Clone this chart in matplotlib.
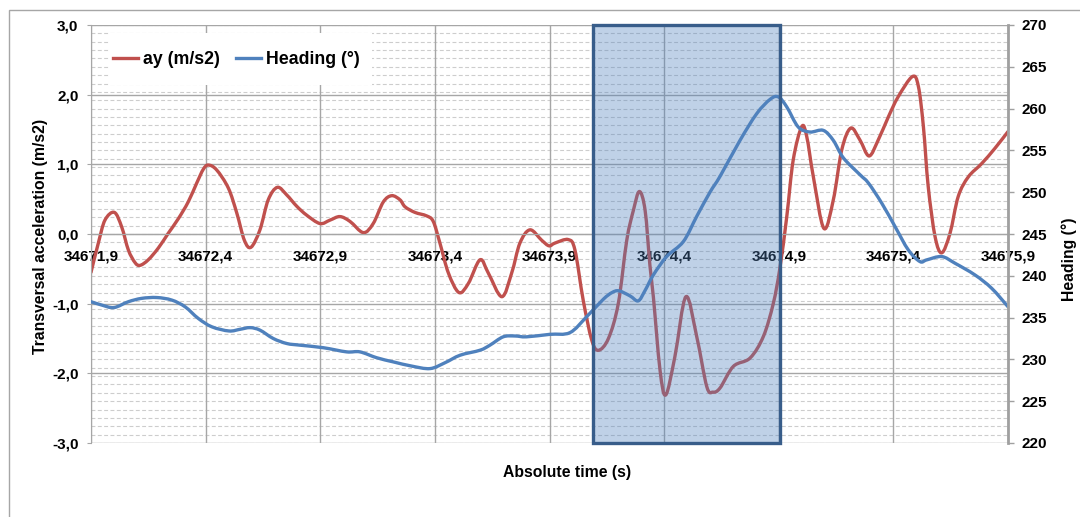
import numpy as np
import matplotlib
matplotlib.use('Agg')
import matplotlib.pyplot as plt
import matplotlib.transforms as mtransforms
from matplotlib import font_manager
from matplotlib.colors import to_rgba
from matplotlib.lines import Line2D
from matplotlib.patches import Rectangle, PathPatch
from matplotlib.path import Path
from matplotlib.text import Text

# transversal acceleration samples (time in s, ay in m/s2)
t_ay = [34671.900, 34671.932, 34671.961, 34672.002, 34672.034, 34672.063, 34672.092,
        34672.114, 34672.150, 34672.194, 34672.237, 34672.281, 34672.324, 34672.361,
        34672.390, 34672.412, 34672.448, 34672.499, 34672.536, 34672.569, 34672.598,
        34672.637, 34672.673, 34672.713, 34672.754, 34672.797, 34672.841, 34672.899,
        34672.943, 34672.986, 34673.030, 34673.088, 34673.131, 34673.175, 34673.212,
        34673.248, 34673.270, 34673.313, 34673.364, 34673.393, 34673.422, 34673.459,
        34673.505, 34673.546, 34673.597, 34673.633, 34673.692, 34673.735, 34673.771,
        34673.815, 34673.866, 34673.898, 34673.924, 34673.982, 34674.011, 34674.047,
        34674.084, 34674.113, 34674.157, 34674.200, 34674.237, 34674.266, 34674.292,
        34674.317, 34674.338, 34674.353, 34674.382, 34674.407, 34674.447, 34674.495,
        34674.542, 34674.586, 34674.613, 34674.644, 34674.702, 34674.775, 34674.833,
        34674.876, 34674.905, 34674.935, 34674.963, 34675.000, 34675.022, 34675.051,
        34675.097, 34675.138, 34675.175, 34675.214, 34675.254, 34675.294, 34675.334,
        34675.378, 34675.421, 34675.483, 34675.509, 34675.531, 34675.552, 34675.582,
        34675.611, 34675.647, 34675.683, 34675.727, 34675.785, 34675.843, 34675.900]
ay = [-0.55, -0.13, 0.20, 0.31, 0.10, -0.23, -0.41,
      -0.45, -0.37, -0.20, 0.01, 0.22, 0.46, 0.73,
      0.93, 0.99, 0.92, 0.66, 0.30, -0.09, -0.19,
      0.06, 0.49, 0.67, 0.56, 0.40, 0.27, 0.15,
      0.20, 0.25, 0.18, 0.02, 0.15, 0.46, 0.55,
      0.49, 0.39, 0.31, 0.26, 0.18, -0.13, -0.56,
      -0.84, -0.71, -0.37, -0.56, -0.90, -0.56, -0.13,
      0.06, -0.09, -0.17, -0.13, -0.08, -0.23, -0.95,
      -1.52, -1.67, -1.50, -1.00, -0.09, 0.34, 0.61,
      0.34, -0.45, -0.90, -1.95, -2.31, -1.76, -0.90,
      -1.47, -2.19, -2.27, -2.21, -1.90, -1.78, -1.47,
      -1.00, -0.49, 0.25, 1.06, 1.54, 1.40, 0.82,
      0.08, 0.49, 1.21, 1.52, 1.35, 1.12, 1.35,
      1.68, 1.97, 2.26, 2.12, 1.54, 0.68, -0.04,
      -0.27, 0.01, 0.54, 0.82, 1.01, 1.23, 1.47]

# heading samples (time in s, heading in degrees)
t_head = [34671.900, 34671.947, 34672.000, 34672.063, 34672.121, 34672.187, 34672.252,
          34672.310, 34672.368, 34672.427, 34672.502, 34672.550, 34672.594, 34672.637,
          34672.695, 34672.754, 34672.812, 34672.913, 34673.015, 34673.073, 34673.146,
          34673.219, 34673.299, 34673.379, 34673.444, 34673.510, 34673.597, 34673.640,
          34673.698, 34673.749, 34673.800, 34673.902, 34673.989, 34674.062, 34674.135,
          34674.173, 34674.203, 34674.251, 34674.287, 34674.316, 34674.353, 34674.411,
          34674.484, 34674.542, 34674.600, 34674.644, 34674.731, 34674.804, 34674.862,
          34674.898, 34674.935, 34674.985, 34675.036, 34675.094, 34675.138, 34675.182,
          34675.254, 34675.291, 34675.349, 34675.407, 34675.465, 34675.516, 34675.545,
          34675.611, 34675.669, 34675.756, 34675.829, 34675.900]
heading = [236.9, 236.5, 236.2, 236.9, 237.3, 237.4, 237.1,
           236.3, 234.9, 233.9, 233.4, 233.6, 233.8, 233.5,
           232.5, 231.9, 231.7, 231.4, 230.9, 230.9, 230.2,
           229.7, 229.2, 228.9, 229.6, 230.5, 231.1, 231.7,
           232.7, 232.8, 232.7, 233.0, 233.2, 235.1, 237.2,
           238.0, 238.2, 237.6, 237.0, 238.2, 240.1, 242.3,
           244.1, 247.1, 250.0, 251.9, 256.2, 259.4, 261.1,
           261.4, 260.2, 257.8, 257.2, 257.4, 256.2, 254.1,
           252.1, 251.1, 248.7, 245.9, 243.1, 241.7, 241.9,
           242.3, 241.5, 240.1, 238.5, 236.3]

x_ticks = [34671.9, 34672.4, 34672.9, 34673.4, 34673.9, 34674.4, 34674.9, 34675.4, 34675.9]
x_labels = ['34671,9', '34672,4', '34672,9', '34673,4', '34673,9',
            '34674,4', '34674,9', '34675,4', '34675,9']
ay_ticks = [-3, -2, -1, 0, 1, 2, 3]
ay_labels = ['-3,0', '-2,0', '-1,0', '0,0', '1,0', '2,0', '3,0']
head_ticks = [220, 225, 230, 235, 240, 245, 250, 255, 260, 265, 270]
head_minor = list(range(220, 271))

# time window highlighted on the chart
window_start = 34674.09
window_end = 34674.905

RED = '#C0504D'
BLUE = '#4F81BD'
GRID = '#a6a6a6'


def smooth_line(x, y):
    """Smoothed (Catmull-Rom style) Bezier path through the samples."""
    pts = np.column_stack([x, y]).astype(float)
    n = len(pts)
    verts = [pts[0]]
    codes = [Path.MOVETO]
    for i in range(n - 1):
        p0 = pts[i - 1] if i > 0 else pts[i]
        p1, p2 = pts[i], pts[i + 1]
        p3 = pts[i + 2] if i + 2 < n else pts[i + 1]
        verts += [p1 + (p2 - p0) / 6, p2 - (p3 - p1) / 6, p2]
        codes += [Path.CURVE4] * 3
    return Path(verts, codes)


W, H = 1080, 517
fig = plt.figure(figsize=(W / 100, H / 100), dpi=100)
ax = fig.add_axes([91 / W, 74 / H, 917 / W, 418 / H])
ax2 = ax.twinx()

ax.set_xlim(34671.9, 34675.9)
ax.set_ylim(-3, 3)
ax2.set_ylim(220, 270)

# gridlines: solid majors on the left scale, dashed minors on the heading scale
ax.set_xticks(x_ticks)
ax.set_xticklabels(x_labels)
ax.set_yticks(ay_ticks)
ax.set_yticklabels(ay_labels)
ax.grid(True, color=GRID, lw=1.0, zorder=1.5)
trans = mtransforms.blended_transform_factory(ax.transAxes, ax2.transData)
ax.hlines(head_minor, 0, 1, transform=trans, colors='#cdcdcd',
          linestyles=(0, (3.5, 2.2)), lw=0.8, zorder=0.4)

ax.add_patch(PathPatch(smooth_line(t_ay, ay), fill=False, edgecolor=RED, lw=2.4,
                       joinstyle='round', capstyle='round', zorder=2))
ax2.add_patch(PathPatch(smooth_line(t_head, heading), fill=False, edgecolor=BLUE, lw=2.4,
                        joinstyle='round', capstyle='round', zorder=2))

ax2.axvspan(window_start, window_end, facecolor=to_rgba(BLUE, 0.36),
            edgecolor='#385D8A', lw=2.4, zorder=4.5, clip_on=False)

# spines
for s in ['top', 'right']:
    ax.spines[s].set_visible(False)
ax.spines['left'].set_color(GRID)
ax.spines['bottom'].set_position(('data', 0))
ax.spines['bottom'].set_color(GRID)
for s in ['top', 'left', 'bottom']:
    ax2.spines[s].set_visible(False)
ax2.spines['right'].set_color('#a0a0a0')
ax2.spines['right'].set_linewidth(2)

ax.tick_params(axis='y', direction='out', length=3, color=GRID, labelsize=11, pad=6)
ax.tick_params(axis='x', length=0, labelsize=11, pad=11)
ax2.set_yticks(head_ticks)
ax2.tick_params(axis='y', direction='out', length=4, color='#a0a0a0', width=1,
                labelsize=11, pad=6)

ax.set_ylabel('Transversal acceleration (m/s2)', fontsize=11.3)
ax.yaxis.set_label_coords(-0.047, 0.493)
ax2.set_ylabel('Heading (°)', fontsize=11.3)
ax2.yaxis.set_label_coords(1.0585, 0.44)
fig.text(567 / W, 1 - 473 / H, 'Absolute time (s)', ha='center', va='center', fontsize=11.3)

# legend with a white box behind it
ax2.add_patch(Rectangle((110 / W, 1 - 85 / H), 262 / W, 52 / H, transform=fig.transFigure,
                        facecolor='white', edgecolor='none', zorder=4))
handles = [Line2D([], [], color=RED, lw=2.4), Line2D([], [], color=BLUE, lw=2.4)]
leg = ax2.legend(handles, ['ay (m/s2)', 'Heading (°)'], loc='center left',
                 bbox_to_anchor=(104 / W, 1 - 60 / H), bbox_transform=fig.transFigure,
                 ncol=2, frameon=False, fontsize=12.8, handlelength=1.4,
                 handletextpad=0.3, columnspacing=0.9, borderpad=0.5, borderaxespad=0)
leg.set_zorder(6)

# outer chart border
fig.add_artist(Rectangle((9 / W, -0.1), 1.2, 0.1 + (H - 10) / H, transform=fig.transFigure,
                         fill=False, edgecolor='#a6a6a6', lw=1))

# all text in Liberation Sans Bold
bold_file = font_manager.findfont(
    font_manager.FontProperties(family='Liberation Sans', weight='bold'))
fig.canvas.draw()
for t in fig.findobj(Text):
    t.set_fontproperties(font_manager.FontProperties(fname=bold_file, size=t.get_fontsize()))

fig.savefig('out.png', dpi=100)
